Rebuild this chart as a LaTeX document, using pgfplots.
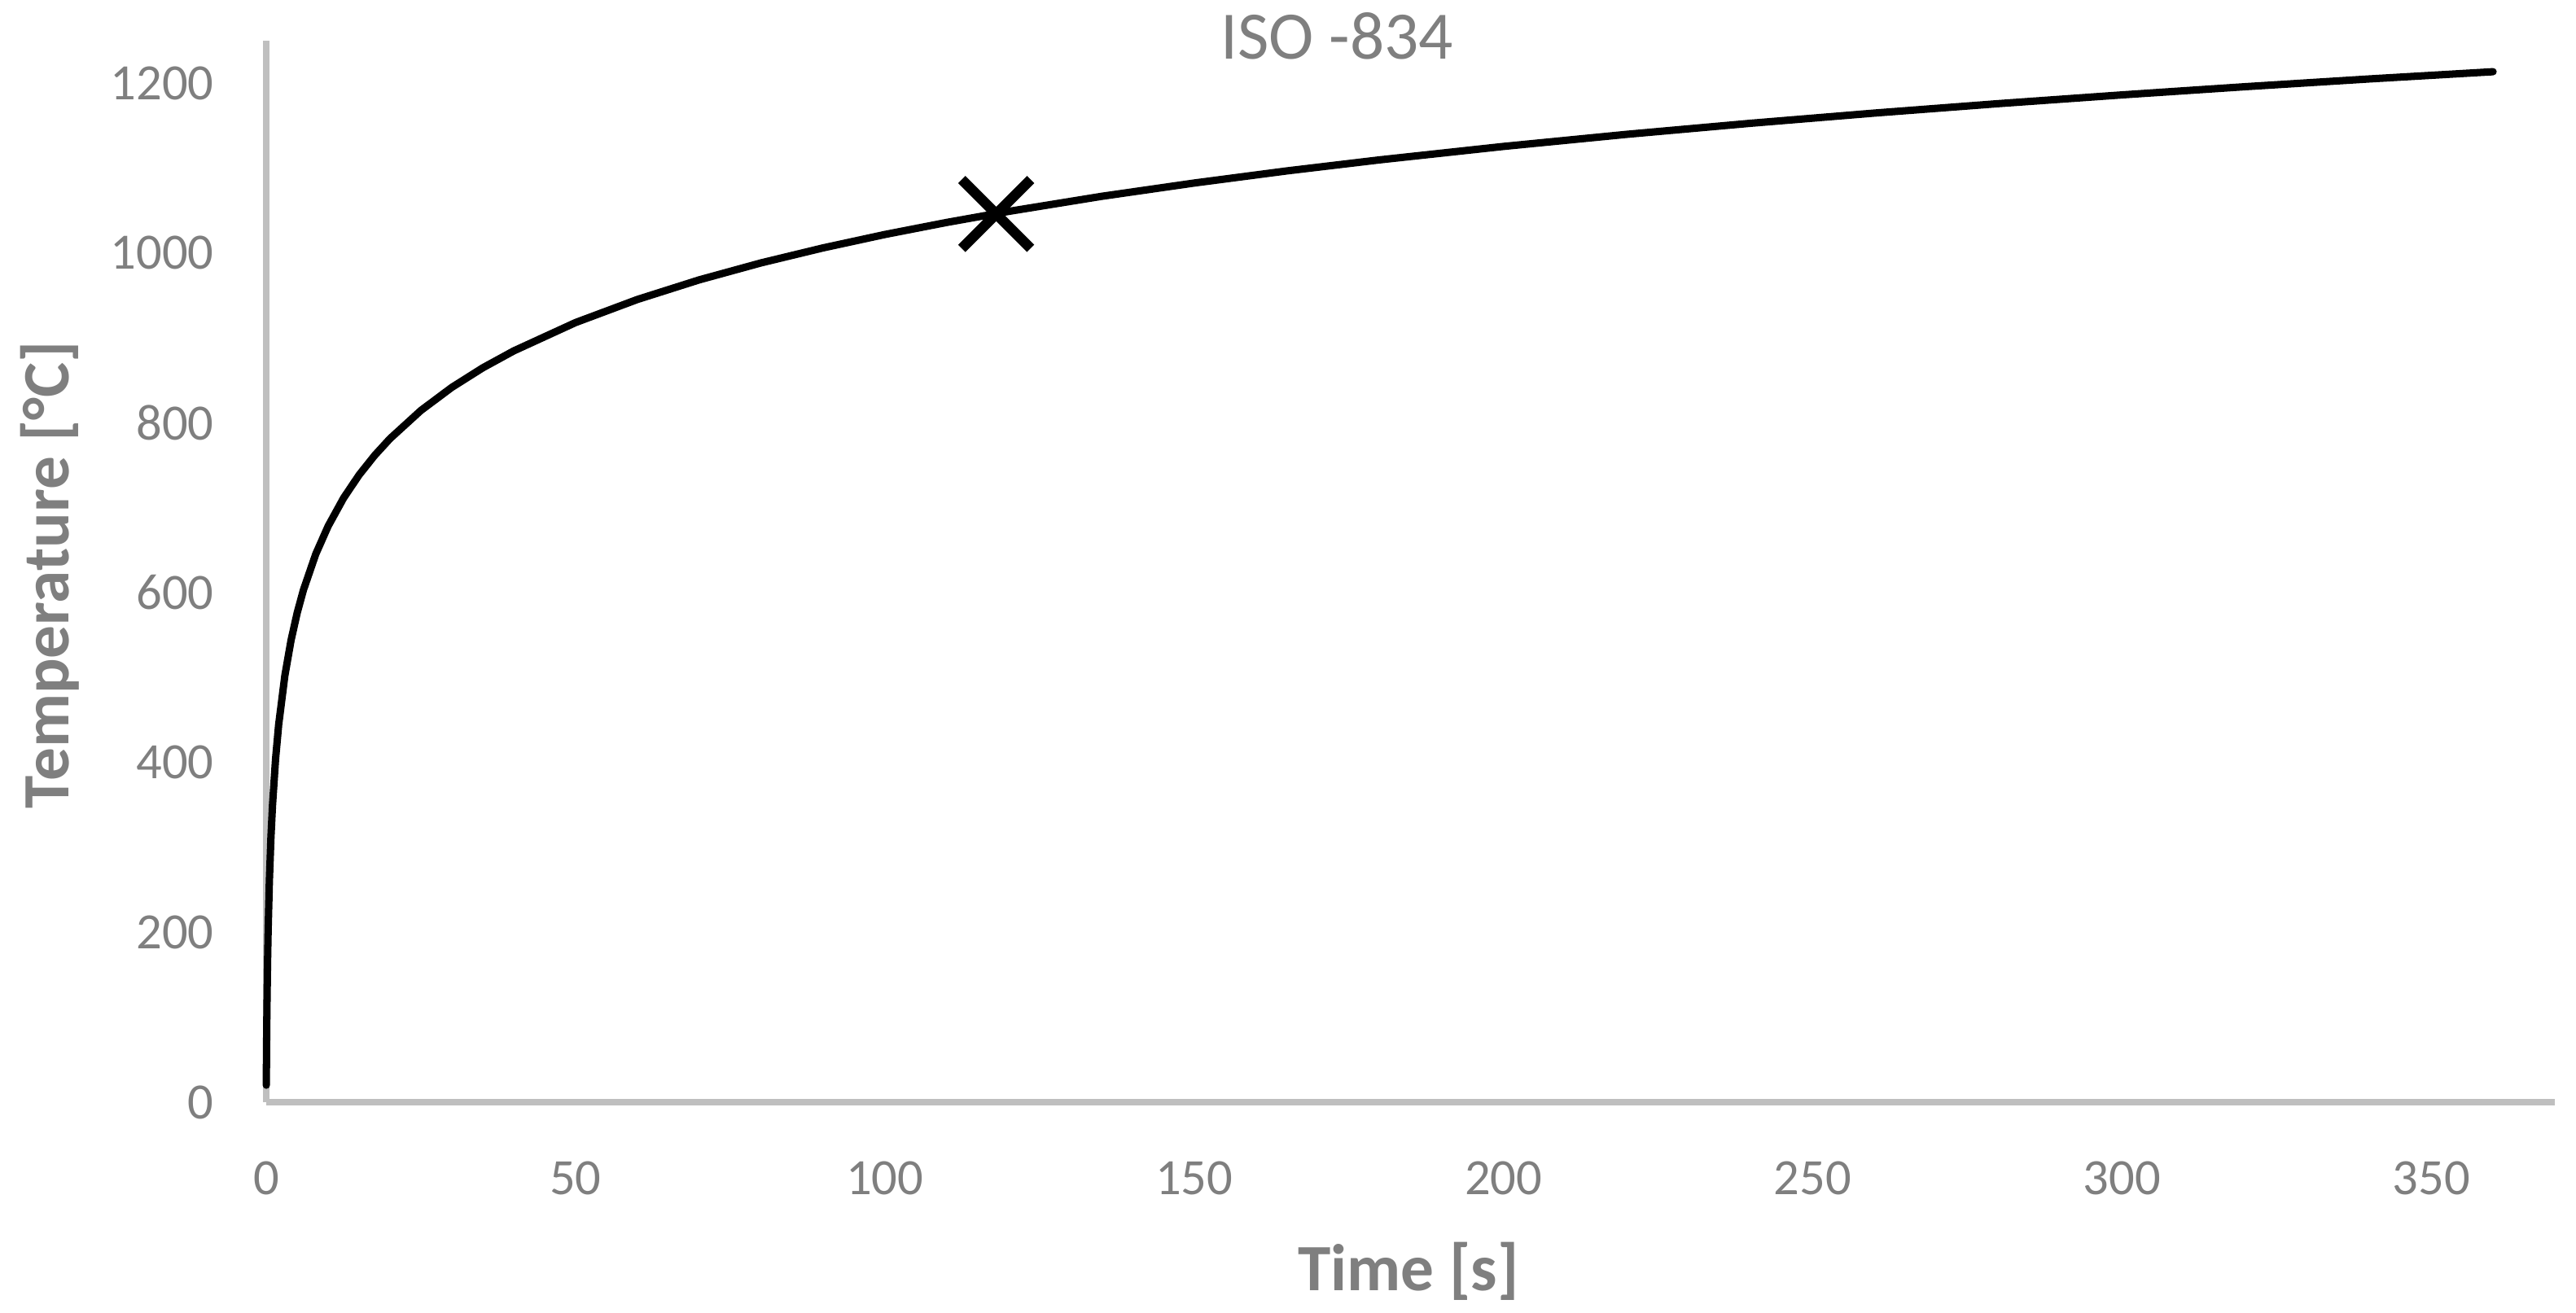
\documentclass[border=0pt]{standalone}
\usepackage{fontspec}
\setmainfont{Carlito}
\usepackage{pgfplots}
\pgfplotsset{compat=1.18}
\definecolor{txtgray}{HTML}{7F7F7F}
\definecolor{axgray}{HTML}{BFBFBF}

\pgfplotstableread{
t T
0 20
0.05 70.4
0.1 108.1
0.2 163.2
0.3 203.4
0.5 261.1
0.75 311.6
1 349.2
1.5 404.3
2 444.5
3 502.3
4 543.9
5 576.4
6 603.1
8 645.5
10 678.4
12.5 711.5
15 738.6
17.5 761.5
20 781.4
25 814.6
30 841.8
35 864.8
40 884.7
50 918.1
60 945.3
70 968.4
80 988.4
90 1006.0
100 1021.8
110 1036.0
120 1049.0
135 1066.7
150 1082.4
165 1096.7
180 1109.7
200 1125.5
220 1139.8
240 1152.8
260 1164.8
280 1175.9
300 1186.2
320 1195.9
340 1205.0
360 1213.5
}\isocurve

\begin{document}
\begin{tikzpicture}
\begin{axis}[
  at={(0,0)}, anchor=origin,
  scale only axis, width=14.215cm, height=6.594cm,
  xmin=0, xmax=370, ymin=0, ymax=1250,
  xtick={0,50,...,350}, ytick={0,200,...,1200},
  axis lines*=left,
  axis line style={draw=axgray, line width=1.1pt},
  major tick length=0pt,
  /pgf/number format/assume math mode=true,
  /pgf/number format/1000 sep={},
  tick label style={font=\fontsize{9}{11}\selectfont, text=txtgray, inner sep=0pt},
  xticklabel style={anchor=north, yshift=-0.36cm},
  yticklabel style={anchor=east, xshift=-0.32cm},
  every axis title shift=0pt,
  title={ISO -834},
  title style={font=\fontsize{12}{14}\selectfont, text=txtgray, at={(0.4678,0.9824)}, anchor=base, inner sep=0pt, yshift=0pt},
  xlabel={Time [s]},
  xlabel style={font=\fontsize{11.7}{14}\selectfont\bfseries, text=txtgray, at={(0.4991,-0.1779)}, anchor=base, inner sep=0pt},
  ylabel={Temperature [°C]},
  ylabel style={font=\fontsize{11.7}{14}\selectfont\bfseries, text=txtgray, at={(-0.0864,0.497)}, anchor=base, inner sep=0pt},
  clip=false,
]
\addplot[black, line width=1.3pt, line join=round, line cap=round] table[x=t, y=T] {\isocurve};
\addplot[only marks, mark=x, mark size=8.6pt, mark options={black, line width=1.8pt}] coordinates {(118,1046)};
\end{axis}
\pgfresetboundingbox
\path[use as bounding box] (-1.654cm,-1.305cm) rectangle (14.346cm,6.847cm);
\end{tikzpicture}
\end{document}
